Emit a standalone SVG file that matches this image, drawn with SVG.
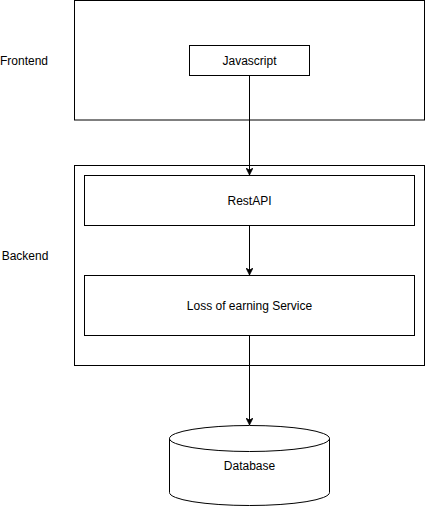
<svg xmlns="http://www.w3.org/2000/svg" width="425" height="507" viewBox="0 0 425 507">
<style>
.box{fill:#fff;stroke:#000;stroke-width:1}
.lbl{font-family:"Liberation Sans",Arial,sans-serif;font-size:12px;fill:#000;text-anchor:middle;dominant-baseline:central}
.edge{fill:none;stroke:#000;stroke-width:1}
</style>
<defs>
<marker id="arr" viewBox="0 0 10 10" refX="10" refY="5" markerWidth="7" markerHeight="7" markerUnits="userSpaceOnUse" orient="auto">
<path d="M0,0 L10,5 L0,10 L3,5 Z" fill="#000" stroke="#000" stroke-width="1"/>
</marker>
</defs>
<rect width="425" height="507" fill="#fff"/>
<g id="frontend-label"><text class="lbl" x="24" y="61">Frontend</text></g>
<g id="backend-label"><text class="lbl" x="25" y="256">Backend</text></g>
<g id="frontend"><rect class="box" x="74.5" y="0.5" width="350" height="119.5"/></g>
<g id="backend"><rect class="box" x="74.5" y="165.5" width="350" height="200"/></g>
<g id="javascript"><rect class="box" x="189.5" y="45.5" width="120" height="30"/><text class="lbl" x="249.5" y="61">Javascript</text></g>
<g id="restapi"><rect class="box" x="84.5" y="175.5" width="330" height="50"/><text class="lbl" x="249.5" y="201">RestAPI</text></g>
<g id="service"><rect class="box" x="84.5" y="275.5" width="330" height="60"/><text class="lbl" x="249.5" y="306">Loss of earning Service</text></g>
<g id="database">
<path class="box" d="M169.5,438.5 A80,13 0 0 1 329.5,438.5 L329.5,492.5 A80,13 0 0 1 169.5,492.5 Z"/>
<path class="edge" d="M169.5,438.5 A80,13 0 0 0 329.5,438.5"/>
<text class="lbl" x="249.5" y="466">Database</text>
</g>
<g id="connectors">
<path class="edge" d="M249.5,75.5 L249.5,175" marker-end="url(#arr)"/>
<path class="edge" d="M249.5,225.5 L249.5,275" marker-end="url(#arr)"/>
<path class="edge" d="M249.5,335.5 L249.5,425" marker-end="url(#arr)"/>
</g>
</svg>
